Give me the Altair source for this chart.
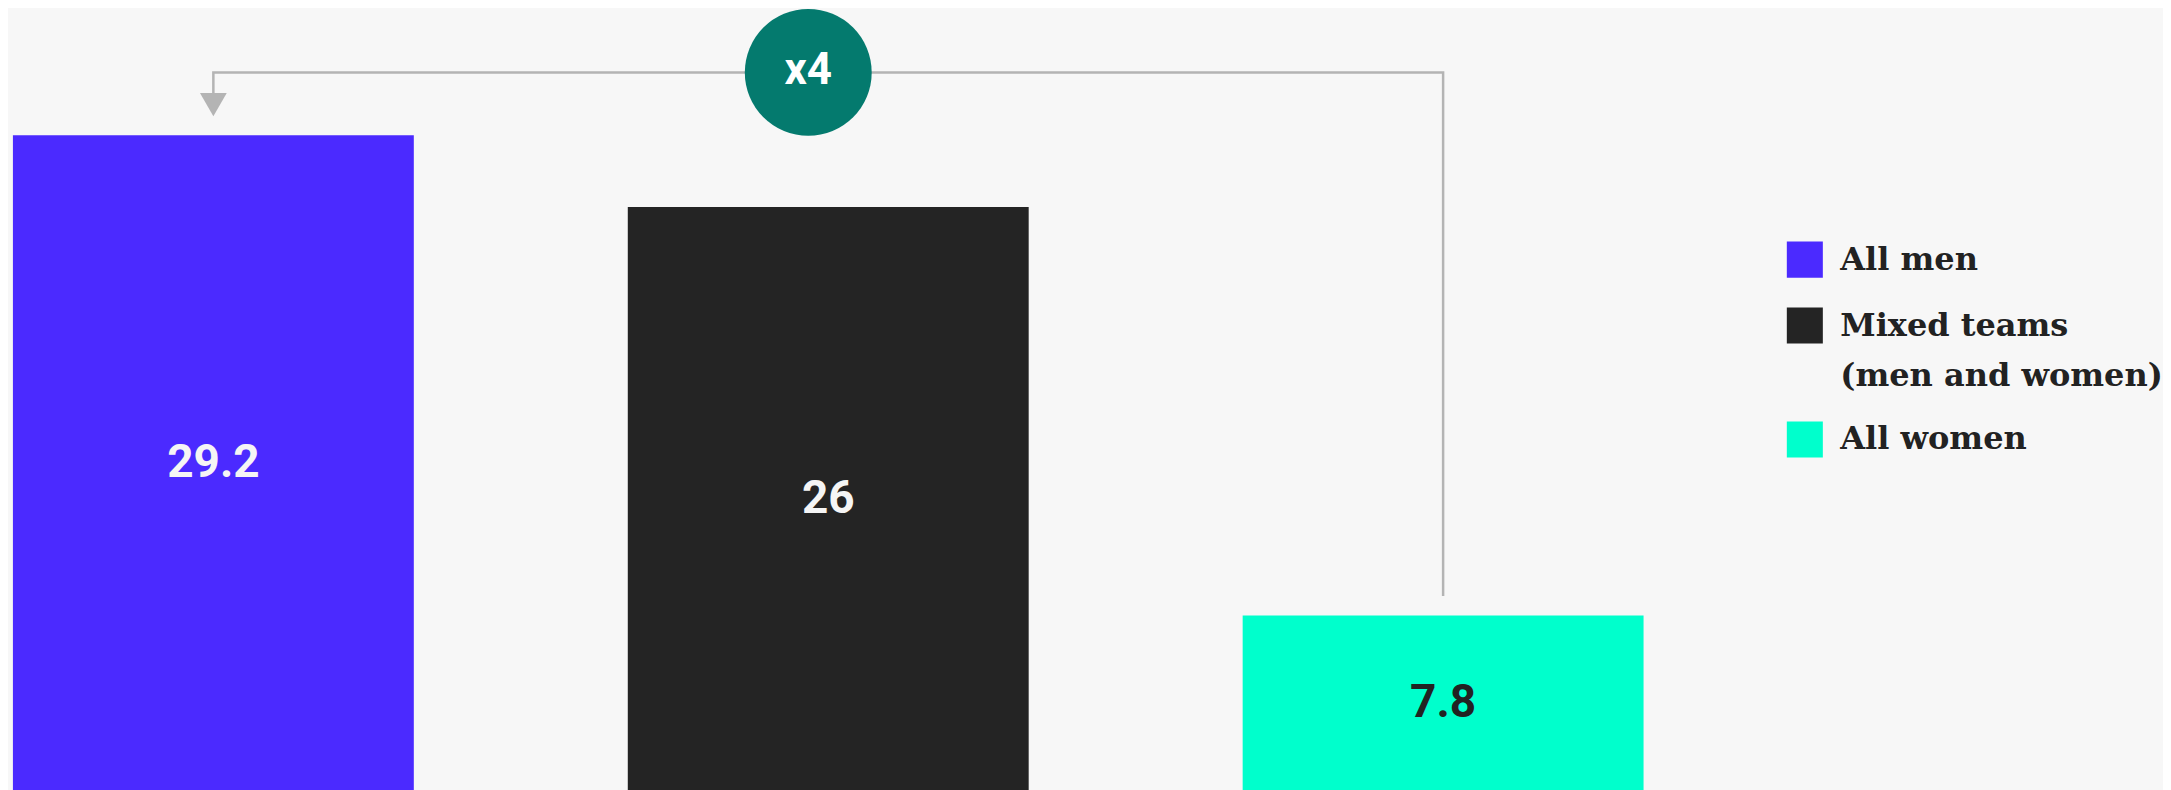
import altair as alt
import pandas as pd

# ---- data ----
groups = ["All men", "Mixed teams (men and women)", "All women"]
values = [29.2, 26.0, 7.8]
value_labels = ["29.2", "26", "7.8"]
bar_colors = ["#4B2AFF", "#242424", "#00FFCC"]
multiplier_text = "x4"

# ---- annotation geometry (data units) ----
bracket_level = 32.0
gap = 0.87
arrow_half = 0.5

BG = "#F7F7F7"

bars_df = pd.DataFrame({"group": groups, "value": values, "label": value_labels})

path_df = pd.DataFrame({
    "group": [groups[2], groups[2], groups[0], groups[0]],
    "y": [values[2] + gap, bracket_level, bracket_level, values[0] + gap + arrow_half],
    "step": [0, 1, 2, 3],
})
arrow_df = pd.DataFrame({"group": [groups[0]], "y": [values[0] + gap + arrow_half]})
badge_df = pd.DataFrame({"group": [groups[1]], "y": [bracket_level], "text": [multiplier_text]})

x_scale = alt.Scale(domain=groups, paddingInner=0.348, paddingOuter=0.008)
y_scale = alt.Scale(domain=[0, 34.81], nice=False, zero=True)

X = alt.X("group:N", scale=x_scale, sort=groups, axis=None)
Y = alt.Y("value:Q", scale=y_scale, axis=None)

legend = alt.Legend(
    orient="none", legendX=1780, legendY=232, title=None,
    symbolType="square", symbolSize=1300, symbolStrokeWidth=0, symbolOpacity=1,
    labelFont="DejaVu Serif", labelFontWeight="bold", labelFontSize=32,
    labelColor="#222222", labelLimit=500, labelOffset=17, rowPadding=29,
    labelExpr="datum.label == 'Mixed teams (men and women)' ? ['Mixed teams', '(men and women)'] : datum.label",
    padding=0,
)

bars = alt.Chart(bars_df).mark_bar().encode(
    x=X, y=Y,
    color=alt.Color("group:N", scale=alt.Scale(domain=groups, range=bar_colors), legend=legend),
)

bar_text = alt.Chart(bars_df).transform_calculate(mid="datum.value / 2").mark_text(
    font="Roboto", fontWeight="bold", fontSize=46, baseline="middle", align="center"
).encode(
    x=X,
    y=alt.Y("mid:Q", scale=y_scale, axis=None),
    text="label:N",
    color=alt.condition(alt.datum.group == groups[2], alt.value("#222222"), alt.value("#F5F5F5")),
)

path = alt.Chart(path_df).mark_line(color="#B4B4B4", strokeWidth=2.5, interpolate="linear").encode(
    x=X, y=alt.Y("y:Q", scale=y_scale, axis=None), order="step:Q",
)

arrow = alt.Chart(arrow_df).mark_point(
    shape="triangle-down", filled=True, color="#B4B4B4", size=720, opacity=1
).encode(x=X, y=alt.Y("y:Q", scale=y_scale, axis=None))

badge = alt.Chart(badge_df).mark_circle(color="#047A6E", size=16130, opacity=1, xOffset=-20).encode(
    x=X, y=alt.Y("y:Q", scale=y_scale, axis=None)
)

badge_text = alt.Chart(badge_df).mark_text(
    font="Roboto", fontWeight="bold", fontSize=44, color="#FFFFFF", baseline="middle", dx=-20, dy=-1
).encode(x=X, y=alt.Y("y:Q", scale=y_scale, axis=None), text="text:N")

chart = alt.layer(bars, bar_text, path, arrow, badge, badge_text).properties(
    width=1642, height=782, padding=0
).configure(
    background=BG,
    style={"guide-label": {"lineHeight": 50}},
).configure_view(stroke=None, fill=BG)

chart.save("out.html", embed_options={"renderer": "svg", "actions": False})
